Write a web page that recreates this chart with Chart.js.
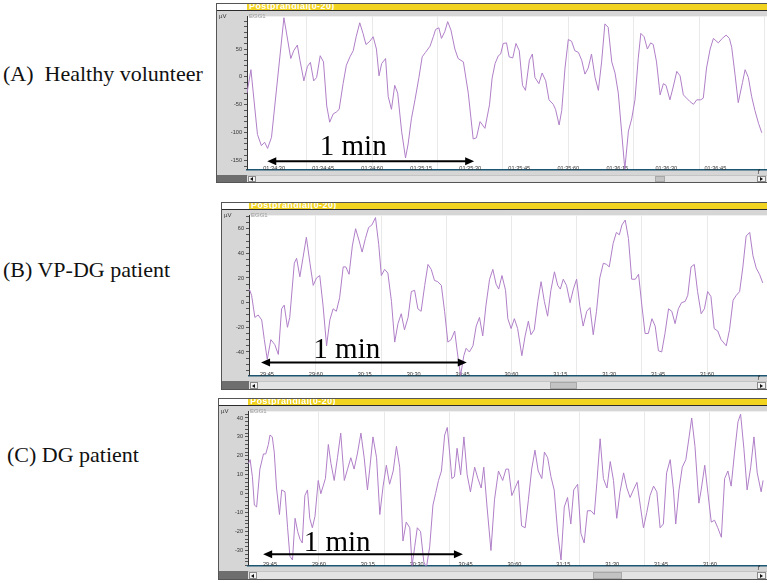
<!DOCTYPE html>
<html>
<head>
<meta charset="utf-8">
<script src="https://cdn.jsdelivr.net/npm/chart.js@4.4.1/dist/chart.umd.min.js"></script>
<style>
  html, body { margin: 0; padding: 0; background: #fff; }
  body { position: relative; width: 767px; height: 583px; overflow: hidden; font-family: "Liberation Sans", Arial, sans-serif; }
  .abs { position: absolute; box-sizing: border-box; }
  .cap { font-family: "Liberation Serif", "Times New Roman", serif; font-size: 22px; line-height: 22px; color: #111; white-space: pre; }
  .head { background: #f2d320; border-bottom: 1px solid #2c2c2c; color: #fff; font-weight: bold; font-size: 9px; line-height: 7px; letter-spacing: .4px; padding-left: 2px; overflow: hidden; white-space: nowrap; }
  .small { font-size: 6px; line-height: 6px; color: #333; white-space: nowrap; }
  .btn { background: #f3f3f3; border: 1px solid #8a8a8a; }
</style>
</head>
<body>
<script>
// time in seconds from the first labelled tick, amplitude in µV
const aTime = [-8.3,-7.1,-5.1,-3.9,-2.9,-2.0,-0.8,3.0,5.1,6.0,7.1,7.9,9.1,10.2,11.1,12.1,13.0,14.1,15.1,16.1,
  17.0,18.1,19.0,19.9,21.1,22.1,23.2,24.2,25.1,26.2,27.2,28.1,29.3,30.3,31.3,32.1,32.9,34.1,34.9,35.9,
  36.9,37.8,39.0,40.2,41.0,42.0,43.1,44.3,45.3,46.3,47.7,48.7,49.4,50.4,51.2,52.2,53.1,54.1,55.3,56.3,
  57.9,59.4,60.9,61.9,63.0,64.5,65.9,66.7,67.6,68.6,69.3,70.1,71.1,71.9,73.0,74.0,75.0,76.0,76.9,78.1,
  79.0,79.8,81.0,82.0,83.1,84.1,85.4,86.1,87.2,88.0,89.0,90.0,91.0,92.0,93.1,94.1,95.1,96.1,97.1,98.2,
  99.2,100.2,101.2,102.2,103.3,104.3,105.3,106.3,107.3,108.4,109.4,110.4,111.4,112.2,113.2,114.2,115.2,116.0,117.0,118.1,
  119.1,119.9,121.1,122.1,123.2,124.2,125.2,126.2,127.2,128.3,129.3,130.5,131.3,132.3,133.4,134.4,135.9,137.1,138.3,139.3,
  140.0,141.0,142.0,143.3,144.1,145.1,146.1,147.1,148.2,149.2];
const aVolt = [-29,13,-103,-123,-117,-128,-108,106,33,47,57,30,-7,19,26,-7,-1,38,27,-52,
  -81,-66,-63,-58,-12,21,36,47,72,97,78,58,64,72,50,2,24,33,-35,-58,
  -15,-29,-97,-145,-120,-75,-41,-1,36,44,55,72,85,88,69,81,99,84,50,33,
  27,-29,-111,-109,-80,-92,-50,-2,24,38,41,60,61,36,34,60,47,-15,-24,30,
  41,-1,-12,7,-7,-41,-49,-58,-86,-60,16,67,64,47,44,30,5,16,41,-1,
  -24,27,95,89,27,7,-29,-97,-165,-97,-75,-41,33,78,72,50,61,58,27,-32,
  -12,-15,-41,-18,10,2,-32,-38,-44,-49,-41,-41,-38,16,50,69,61,69,75,69,
  53,5,-46,-10,13,-1,-35,-60,-83,-100];

const bTime = [-5.4,-4.7,-3.7,-2.7,-1.6,-0.8,0.1,1.2,2.4,3.5,4.5,5.3,6.3,7.0,8.4,9.1,10.1,11.1,12.1,13.2,
  14.2,15.2,16.2,17.2,18.3,19.3,20.3,21.3,22.3,23.4,24.2,25.2,26.2,27.2,28.3,29.2,30.2,31.2,32.2,33.3,
  34.3,35.1,36.1,37.1,38.2,39.2,40.2,41.2,42.2,43.3,44.3,45.3,46.3,47.3,48.4,49.4,50.4,51.4,52.4,53.5,
  54.5,55.5,56.5,57.6,58.4,59.4,60.4,61.1,62.1,63.2,64.2,65.2,66.2,67.2,68.3,69.3,70.3,71.1,72.1,73.2,
  73.9,74.9,75.9,76.9,78.2,79.2,80.2,81.0,82.0,83.1,84.1,85.1,86.1,87.1,88.2,89.2,90.0,90.9,91.9,93.0,
  94.0,95.0,96.0,97.0,98.1,99.1,100.1,101.1,102.1,103.2,104.2,105.0,106.2,107.2,108.1,108.9,109.9,110.9,111.9,113.0,
  114.0,115.0,116.0,117.0,118.1,119.1,120.1,121.1,122.1,123.2,124.2,125.2,126.2,127.2,128.3,129.1,130.1,131.1,132.1,133.2,
  134.2,135.2,136.2,137.2,138.3,139.3,140.9,141.9,143.0,144.0,145.0,146.0,147.0,148.1,149.1,150.1,151.1,152.1];
const bVolt = [11,6,-12,-10,-14,-30,-46,-30,-34,-42,-5,-2,-20,-12,32,36,21,37,53,32,
  14,20,22,-2,-35,-14,-5,-7,4,29,29,23,46,60,50,41,52,61,63,69,
  47,22,27,24,1,-32,-17,-9,-22,-12,9,10,-5,-7,14,31,27,18,17,14,
  -7,-32,-30,-23,-40,-59,-43,-37,-40,-35,-19,-12,-27,-2,19,27,15,11,22,10,
  -13,-21,-13,-21,-43,-27,-15,-26,-22,1,17,1,-11,10,25,14,11,19,14,0,
  11,19,-3,-19,-7,-4,-26,-7,20,32,31,29,48,57,55,63,67,52,19,19,
  23,-2,-25,-25,-13,-19,-39,-40,-25,-5,-7,-17,-5,0,1,6,29,31,9,-9,
  -5,9,5,-21,-23,-30,-35,-22,2,6,9,29,54,57,38,28,23,16];

const cTime = [-6.6,-6.1,-5.4,-4.8,-4.1,-3.1,-2.0,-1.3,-0.5,0.0,0.7,1.3,2.0,2.9,3.6,4.6,5.4,6.1,6.9,7.7,
  8.5,9.2,9.9,10.7,11.5,12.2,13.0,13.8,14.8,15.6,16.3,17.0,17.9,18.7,19.7,20.7,21.7,22.8,23.8,24.8,
  25.8,26.8,27.9,28.9,29.9,30.6,31.6,32.7,33.7,34.7,35.7,36.7,37.8,38.8,39.8,40.8,41.8,42.9,43.6,44.4,
  45.2,46.2,47.2,48.0,49.0,50.0,50.8,51.7,52.6,53.6,54.4,55.1,55.8,56.6,57.4,58.5,59.5,60.5,61.5,62.8,
  63.8,64.8,65.6,66.6,67.8,68.9,70.1,71.4,72.4,73.2,74.2,75.2,76.2,77.2,78.3,79.3,80.3,81.3,82.3,83.4,
  84.2,85.2,86.2,87.2,88.3,89.3,90.3,91.3,92.3,93.2,94.4,95.4,96.4,97.4,98.5,99.5,100.3,101.3,102.3,103.4,
  104.4,105.4,106.4,107.4,108.5,109.5,110.5,111.5,112.6,113.6,114.6,115.6,116.6,117.7,118.7,119.7,120.7,121.7,122.8,123.8,
  124.5,125.5,126.5,127.6,128.6,129.4,130.4,131.6,132.3,133.4,134.4,135.4,136.4,137.4,138.5,139.5,140.5,141.5,142.5,143.6,
  144.4,145.4,146.4,147.5,148.5,149.5,150.7,151.3];
const cVolt = [16,18,9,-6,-7,13,21,21,26,31,30,22,3,-11,2,1,-18,-33,-35,-13,
  -20,-24,-26,-1,2,-13,-18,-12,7,0,4,8,26,16,7,19,32,7,13,19,
  13,21,32,19,2,13,30,19,-11,4,15,5,12,25,14,-25,-15,-18,-38,-28,
  -18,-20,-36,-39,-28,-6,0,7,12,31,35,22,8,9,24,10,30,10,1,14,
  8,3,14,-7,-30,-3,12,7,13,13,-1,3,7,-17,-18,-3,13,23,12,8,
  22,19,9,2,-21,-35,-7,-2,-16,2,5,-21,-26,-9,-9,-11,6,29,8,3,
  17,7,-13,1,11,3,-2,2,6,-6,-18,-10,-1,4,1,-18,-16,11,18,2,
  -16,2,14,18,30,40,25,-5,2,15,0,-15,-14,-18,-23,8,12,4,21,38,
  42,24,2,14,30,11,1,7];

const timeLabelsA = ['01:34:30','01:34:45','01:34:60','01:35:15','01:35:30','01:35:45','01:35:60','01:36:15','01:36:30','01:36:45'];
const timeLabelsBC = ['29:45','29:60','30:15','30:30','30:45','30:60','31:15','31:30','31:45','31:60'];
const yLabelsA = [-150, -100, -50, 0, 50];
const yLabelsB = [-40, -20, 0, 20, 40, 60];
const yLabelsC = [-30, -20, -10, 0, 10, 20, 30, 40];
const gridA = [10, 30, 50, 70, 90, 110, 130, 150];
const gridBC = [15, 35, 55, 75, 95, 115, 135];

const panels = [
  { caption: '(A)  Healthy volunteer', capX: 3, capY: 63,
    L: 216, T: 3, strip: 31, headH: 8, canH: 164, sbH: 8,
    t: aTime, v: aVolt, xMin: -8.3, xMax: 150.8, yMin: -166, yMax: 108.5, yStep: 10,
    xLabels: timeLabelsA, yLabels: yLabelsA, gridT: gridA,
    arrow: { from: -2.1, to: 61.2, at: -150.8, textAt: 24.2, textY: -139 }, thumb: [655, 665] },
  { caption: '(B) VP-DG patient', capX: 3, capY: 259,
    L: 221, T: 202, strip: 28, headH: 8, canH: 171, sbH: 9,
    t: bTime, v: bVolt, xMin: -5.5, xMax: 153.4, yMin: -59.2, yMax: 70.8, yStep: 5,
    xLabels: timeLabelsBC, yLabels: yLabelsB, gridT: gridBC,
    arrow: { from: -1.8, to: 61.3, at: -48.5, textAt: 24.5, textY: -45 }, thumb: [550, 577] },
  { caption: '(C) DG patient', capX: 7, capY: 444,
    L: 218, T: 398, strip: 30, headH: 8, canH: 165, sbH: 9,
    t: cTime, v: cVolt, xMin: -6.75, xMax: 152.5, yMin: -38, yMax: 43.5, yStep: 2,
    xLabels: timeLabelsBC, yLabels: yLabelsC, gridT: gridBC,
    arrow: { from: -2.1, to: 59.2, at: -32, textAt: 20.6, textY: -30.5 }, thumb: [593, 622] }
];

function box(cls, l, t, w, h, extra, text) {
  const d = document.createElement('div');
  d.className = 'abs ' + cls;
  d.style.cssText = `left:${l}px;top:${t}px;width:${w}px;height:${h}px;` + (extra || '');
  if (text) d.textContent = text;
  document.body.appendChild(d);
  return d;
}

const whiteArea = {
  id: 'whiteArea',
  beforeDraw(chart) {
    const { ctx, chartArea: a } = chart;
    ctx.save();
    ctx.fillStyle = '#fff';
    ctx.fillRect(a.left, a.top, a.right - a.left, a.bottom - a.top);
    ctx.restore();
  }
};

// the black "1 min" double arrow, placed on the chart's own scales
const minArrow = {
  id: 'minArrow',
  afterDraw(chart, args, o) {
    const { ctx, scales: { x, y } } = chart;
    const x0 = x.getPixelForValue(o.from), x1 = x.getPixelForValue(o.to), yy = y.getPixelForValue(o.at);
    const hl = 9, hw = 4;
    ctx.save();
    ctx.strokeStyle = '#000';
    ctx.fillStyle = '#000';
    ctx.lineWidth = 2;
    ctx.beginPath();
    ctx.moveTo(x0 + hl - 1, yy);
    ctx.lineTo(x1 - hl + 1, yy);
    ctx.stroke();
    ctx.beginPath();
    ctx.moveTo(x0, yy); ctx.lineTo(x0 + hl, yy - hw); ctx.lineTo(x0 + hl, yy + hw); ctx.closePath();
    ctx.moveTo(x1, yy); ctx.lineTo(x1 - hl, yy - hw); ctx.lineTo(x1 - hl, yy + hw); ctx.closePath();
    ctx.fill();
    ctx.font = '29px "Liberation Serif", "Times New Roman", serif';
    ctx.textAlign = 'center';
    ctx.textBaseline = 'alphabetic';
    ctx.fillText('1 min', x.getPixelForValue(o.textAt), y.getPixelForValue(o.textY));
    ctx.restore();
  }
};

panels.forEach(p => {
  const W = 767 - p.L;
  const canTop = p.T + p.headH;
  const sbTop = canTop + p.canH;

  box('cap', p.capX, p.capY, 214, 24, '', p.caption);

  box('', p.L, p.T, p.strip, p.headH, 'background:#fff;border-bottom:1px solid #2c2c2c');
  box('head', p.L + p.strip, p.T, W - p.strip, p.headH, '', 'Postprandial(0-20)');

  const wrap = box('', p.L, canTop, W, p.canH, 'background:#d6d6d6');
  const cv = document.createElement('canvas');
  cv.width = W; cv.height = p.canH;
  cv.style.cssText = `display:block;width:${W}px;height:${p.canH}px`;
  wrap.appendChild(cv);

  box('small', p.L + 3, canTop + 2, 12, 7, '', 'µV');
  box('small', p.L + p.strip + 2, canTop + 2, 20, 7, 'color:#9a9a9a', 'EGG1');
  box('small', 757, sbTop - 7, 6, 7, 'font-style:italic;color:#222', 'ƒ');

  box('', p.L, sbTop, p.strip, p.sbH, 'background:#6e6e6e');
  box('', p.L + p.strip, sbTop, W - p.strip, p.sbH, 'background:#e3e3e3;border-top:1px solid #c4c4c4');
  box('btn', p.L + p.strip + 1, sbTop + 1, 8, p.sbH - 2, '');
  box('', p.L + p.strip + 3, sbTop + p.sbH / 2 - 2, 0, 0, 'border-top:2px solid transparent;border-bottom:2px solid transparent;border-right:3px solid #111');
  box('btn', 757, sbTop + 1, 9, p.sbH - 2, '');
  box('', 760, sbTop + p.sbH / 2 - 2, 0, 0, 'border-top:2px solid transparent;border-bottom:2px solid transparent;border-left:3px solid #111');
  box('', p.thumb[0], sbTop + 1, p.thumb[1] - p.thumb[0], p.sbH - 2, 'background:#c3c3c3;border:1px solid #a8a8a8');

  box('', p.L, p.T, W + 4, p.headH + p.canH + p.sbH, 'border:1px solid #555;pointer-events:none');

  new Chart(cv, {
    type: 'line',
    data: {
      datasets: [{
        data: p.t.map((t, i) => ({ x: t, y: p.v[i] })),
        borderColor: '#b07fc8', borderWidth: 1, pointRadius: 0, tension: 0, fill: false
      }]
    },
    options: {
      responsive: false, animation: false, events: [],
      layout: { padding: { top: 1, bottom: 1, left: 0, right: 0 } },
      plugins: { legend: { display: false }, tooltip: { enabled: false }, minArrow: p.arrow },
      scales: {
        x: {
          type: 'linear', position: 'bottom', min: p.xMin, max: p.xMax,
          afterBuildTicks: ax => { ax.ticks = p.xLabels.map((_, i) => ({ value: i * 15 })); },
          afterFit: ax => { ax.height = 0; },
          grid: { display: false },
          border: { color: '#1d5672', width: 1.5 },
          ticks: { autoSkip: false, maxRotation: 0, mirror: true, padding: -2.2, color: '#333',
                   font: { size: 5.6, family: 'Arial' }, callback: (v, i) => p.xLabels[i] }
        },
        g: {
          type: 'linear', position: 'bottom', min: p.xMin, max: p.xMax,
          afterBuildTicks: ax => { ax.ticks = p.gridT.map(v => ({ value: v })); },
          afterFit: ax => { ax.height = 0; },
          ticks: { display: false },
          grid: { color: '#e9e9e9', drawTicks: false },
          border: { display: false }
        },
        y: {
          min: p.yMin, max: p.yMax,
          afterBuildTicks: ax => {
            const out = [];
            for (let v = Math.ceil(p.yMin / p.yStep) * p.yStep; v <= p.yMax; v += p.yStep) out.push({ value: v });
            ax.ticks = out;
          },
          afterFit: ax => { ax.width = p.strip; },
          grid: { drawOnChartArea: false, tickLength: 3, color: '#555' },
          border: { color: '#333' },
          ticks: { autoSkip: false, padding: 2, color: '#333', font: { size: 5.6, family: 'Arial' },
                   callback: v => p.yLabels.includes(v) ? String(v) : '' }
        }
      }
    },
    plugins: [whiteArea, minArrow]
  });
});
</script>
</body>
</html>
